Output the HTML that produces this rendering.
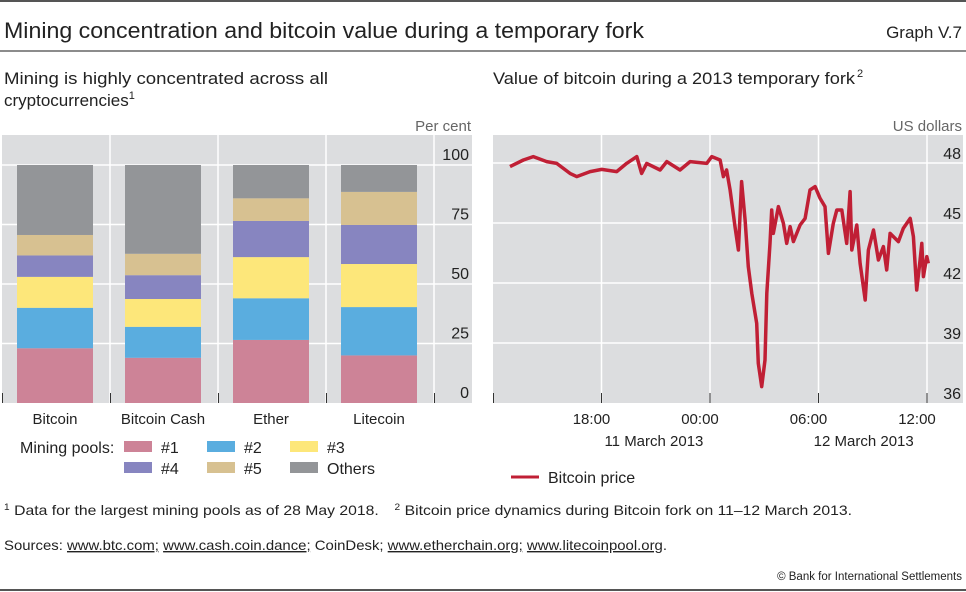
<!DOCTYPE html>
<html><head><meta charset="utf-8"><style>
html,body{margin:0;padding:0;background:#fff;}
svg{display:block;font-family:"Liberation Sans",sans-serif;}
</style></head><body>
<svg id="root" width="966" height="592" viewBox="0 0 966 592" xmlns="http://www.w3.org/2000/svg">
<line x1="0" y1="1" x2="966" y2="1" stroke="#555" stroke-width="2"/>
<text x="4" y="38" font-size="22" fill="#222" textLength="640" lengthAdjust="spacingAndGlyphs">Mining concentration and bitcoin value during a temporary fork</text>
<text x="962" y="38" font-size="17" fill="#222" text-anchor="end">Graph V.7</text>
<line x1="0" y1="51" x2="966" y2="51" stroke="#666" stroke-width="1.5"/>
<text x="4" y="84" font-size="17" fill="#222" textLength="324" lengthAdjust="spacingAndGlyphs">Mining is highly concentrated across all</text>
<text x="4" y="106" font-size="17" fill="#222">cryptocurrencies<tspan font-size="11" dy="-7">1</tspan></text>
<text x="493" y="84" font-size="17" fill="#222" textLength="362" lengthAdjust="spacingAndGlyphs">Value of bitcoin during a 2013 temporary fork</text>
<text x="857" y="77" font-size="11" fill="#222">2</text>
<text x="471" y="131" font-size="15" fill="#666" text-anchor="end">Per cent</text>
<text x="962" y="131" font-size="15" fill="#666" text-anchor="end">US dollars</text>
<g id="left"></g>
<g id="right"></g>
<text x="20" y="453" font-size="16" fill="#222">Mining pools:</text>
<g id="legend"></g>
<line x1="511" y1="477" x2="539" y2="477" stroke="#c01f35" stroke-width="3"/>
<text x="548" y="483" font-size="16" fill="#222">Bitcoin price</text>
<text x="4" y="515" font-size="14" fill="#222" textLength="848" lengthAdjust="spacingAndGlyphs"><tspan font-size="9" dy="-5">1</tspan><tspan dy="5" dx="4">Data for the largest mining pools as of 28 May 2018.</tspan><tspan font-size="9" dy="-5" dx="14">2</tspan><tspan dy="5" dx="4">Bitcoin price dynamics during Bitcoin fork on 11–12 March 2013.</tspan></text>
<text x="4" y="550" font-size="14" fill="#222" textLength="663" lengthAdjust="spacingAndGlyphs">Sources: <tspan text-decoration="underline">www.btc.com;</tspan> <tspan text-decoration="underline">www.cash.coin.dance;</tspan> CoinDesk; <tspan text-decoration="underline">www.etherchain.org;</tspan> <tspan text-decoration="underline">www.litecoinpool.org</tspan>.</text>
<text x="962" y="580" font-size="11.5" fill="#222" text-anchor="end">© Bank for International Settlements</text>
<line x1="0" y1="590" x2="966" y2="590" stroke="#555" stroke-width="2"/>
</svg>
<script>
const categories = ["Bitcoin","Bitcoin Cash","Ether","Litecoin"];
const seriesNames = ["#1","#2","#3","#4","#5","Others"];
const pool1 = [23, 19, 26.5, 20];
const pool2 = [17, 13, 17.5, 20.3];
const pool3 = [13, 11.7, 17.3, 18.1];
const pool4 = [9, 10, 15.2, 16.4];
const pool5 = [8.6, 9, 9.5, 13.9];
const others = [29.4, 37.3, 14, 11.3];
const leftTicks = [0, 25, 50, 75, 100];

const hours = [0.94,1.68,2.23,2.97,3.52,4.26,4.63,5.37,6.01,6.84,7.39,7.95,8.22,8.50,9.24,9.61,10.34,10.90,11.82,12.10,12.56,12.74,12.92,13.11,13.38,13.57,13.75,13.94,14.12,14.31,14.58,14.67,14.86,15.04,15.14,15.32,15.41,15.50,15.78,16.06,16.24,16.43,16.61,16.98,17.26,17.53,17.81,18.09,18.36,18.55,18.82,19.01,19.29,19.56,19.75,19.84,20.12,20.30,20.58,20.76,21.04,21.31,21.59,21.77,21.96,22.42,22.69,23.07,23.25,23.43,23.62,23.71,23.80,23.99,24.07];
const prices = [47.82,48.15,48.32,48.07,47.98,47.48,47.32,47.57,47.68,47.57,47.98,48.32,47.48,47.98,47.65,48.07,47.65,48.07,47.98,48.32,48.15,47.32,47.65,46.65,44.82,43.65,47.07,45.15,42.82,41.48,39.98,37.98,36.82,38.15,41.48,43.98,45.65,44.48,45.82,44.98,43.98,44.82,44.07,44.90,45.23,46.65,46.82,46.23,45.82,43.48,44.98,45.65,45.65,43.98,46.57,43.65,44.90,42.98,41.15,43.65,44.65,43.15,43.82,42.65,44.48,44.07,44.73,45.23,44.32,41.65,43.15,43.98,42.32,43.32,42.98];
const rightTicks = [36, 39, 42, 45, 48];
const timeTicks = [6, 12, 18, 24];
const timeLabels = ["18:00","00:00","06:00","12:00"];
const dateLabels = ["11 March 2013","12 March 2013"];
const dateHours = [8.9, 20.5];

const NS = "http://www.w3.org/2000/svg";
const colors = ["#cd8397","#5aaddf","#fde77a","#8785c0","#d7c191","#939598"];
function mk(tag, attrs, parent){const e=document.createElementNS(NS,tag);for(const k in attrs)e.setAttribute(k,attrs[k]);parent.appendChild(e);return e;}

// Left chart
const L = document.getElementById('left');
const lx0=2, lx1=472, pTop=135, pBot=403;
const yL = v => 403 - v*(403-165)/100;
const bandW = (434-2)/4;
const xBand = i => 2 + bandW*i;
let bg = mk('rect',{x:lx0,y:pTop,width:lx1-lx0,height:pBot-pTop,fill:'#dcdddf'},L);


leftTicks.forEach(t=>{
  if(t>0){const g=mk('line',{x1:lx0,x2:lx1,y1:yL(t),y2:yL(t),stroke:'#fff','stroke-width':1.5},L);
  
  }
  const tx=mk('text',{x:469,y:yL(t)-5,'font-size':16,fill:'#222','text-anchor':'end'},L);tx.textContent=t;
  
  
});
for(let i=1;i<=4;i++){const g=mk('line',{x1:xBand(i),x2:xBand(i),y1:pTop,y2:pBot,stroke:'#fff','stroke-width':1.5},L);
  
  }
for(let i=0;i<=4;i++){const g=mk('line',{x1:xBand(i)+0.5,x2:xBand(i)+0.5,y1:pBot-10,y2:pBot,stroke:'#333','stroke-width':1},L);
  
  }
const series=[pool1,pool2,pool3,pool4,pool5,others];
categories.forEach((c,i)=>{
  let cum=0;
  const bx = xBand(i)+15, bw = 76;
  series.forEach((s,k)=>{
    const r=mk('rect',{x:bx,y:yL(cum+s[i]),width:bw,height:yL(cum)-yL(cum+s[i]),fill:colors[k]},L);
    
    
    cum+=s[i];
  });
  const t=mk('text',{x:bx+bw/2,y:424,'font-size':15,fill:'#222','text-anchor':'middle'},L);t.textContent=c;
  
  
});

// Legend
const LG=document.getElementById('legend');
const legX=[124,207,290], legY=[441,462];
seriesNames.forEach((n,k)=>{
  const col=k%3,row=Math.floor(k/3);
  const r=mk('rect',{x:legX[col],y:legY[row],width:28,height:11,fill:colors[k]},LG);
  
  
  const t=mk('text',{x:legX[col]+37,y:legY[row]+12,'font-size':16,fill:'#222'},LG);t.textContent=n;
  
  
});

// Right chart
const R=document.getElementById('right');
const rx0=493, rx1=963;
const xR = h => 493 + h*(927-493)/24;
const yR = v => 403 - (v-36)*20;
bg=mk('rect',{x:rx0,y:pTop,width:rx1-rx0,height:pBot-pTop,fill:'#dcdddf'},R);


rightTicks.forEach(t=>{
  if(t>36){const g=mk('line',{x1:rx0,x2:rx1,y1:yR(t),y2:yR(t),stroke:'#fff','stroke-width':1.5},R);
  
  }
  const tx=mk('text',{x:961,y:yR(t)-4,'font-size':16,fill:'#222','text-anchor':'end'},R);tx.textContent=t;
  
  
});
timeTicks.forEach((h,i)=>{
  const g=mk('line',{x1:xR(h),x2:xR(h),y1:pTop,y2:pBot,stroke:'#fff','stroke-width':1.5},R);
  
  
  const tk=mk('line',{x1:xR(h),x2:xR(h),y1:pBot-10,y2:pBot,stroke:'#333','stroke-width':1},R);
  
  
  const t=mk('text',{x:xR(h)-10,y:424,'font-size':15,fill:'#222','text-anchor':'middle'},R);t.textContent=timeLabels[i];
  
  
});
const tk0=mk('line',{x1:rx0+0.5,x2:rx0+0.5,y1:pBot-10,y2:pBot,stroke:'#333','stroke-width':1},R);


dateLabels.forEach((d,i)=>{
  const t=mk('text',{x:xR(dateHours[i]),y:446,'font-size':15,fill:'#222','text-anchor':'middle'},R);t.textContent=d;
  
  
});
const pts=hours.map((h,i)=>xR(h).toFixed(1)+','+yR(prices[i]).toFixed(1)).join(' ');
const pl=mk('polyline',{points:pts,fill:'none',stroke:'#c01f35','stroke-width':3.5,'stroke-linejoin':'round'},R);


</script>
</body></html>
